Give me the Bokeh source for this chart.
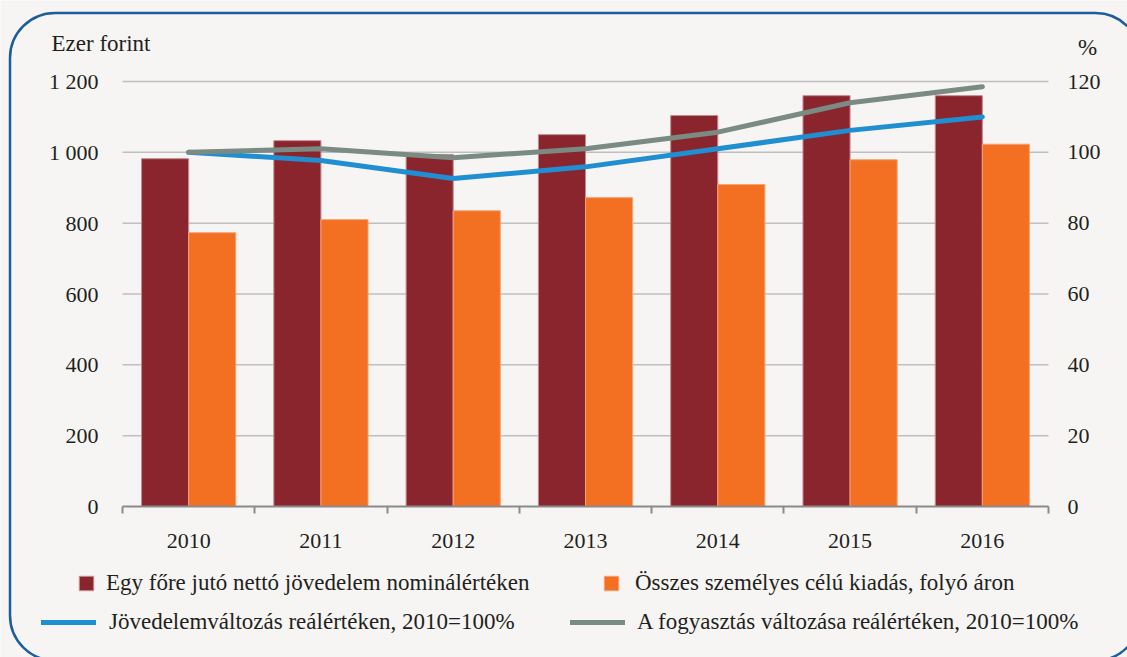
from bokeh.plotting import figure
from bokeh.models import (Range1d, LinearAxis, FixedTicker, BoxAnnotation, Label,
                          Legend, LegendItem, ColumnDataSource)
from bokeh.transform import dodge
from bokeh.embed import file_html
from bokeh.resources import INLINE

# ---- data ----
years = ["2010", "2011", "2012", "2013", "2014", "2015", "2016"]
income_nominal = [982, 1033, 994, 1050, 1104, 1160, 1160]      # ezer forint
spending_current = [773, 810, 835, 872, 909, 979, 1023]        # ezer forint
income_real_idx = [100, 97.7, 92.6, 95.9, 101.0, 106.2, 110.0]  # %
consumption_real_idx = [100, 101.0, 98.5, 101.0, 105.7, 114.0, 118.5]  # %
left_ticks = [0, 200, 400, 600, 800, 1000, 1200]
left_tick_labels = ["0", "200", "400", "600", "800", "1 000", "1 200"]
right_ticks = [0, 20, 40, 60, 80, 100, 120]
labels = ["Egy főre jutó nettó jövedelem nominálértéken",
          "Összes személyes célú kiadás, folyó áron",
          "Jövedelemváltozás reálértéken, 2010=100%",
          "A fogyasztás változása reálértéken, 2010=100%"]

# ---- style ----
BG = "#f6f5f3"
BORDER = "#1c5d9e"
MAROON = "#8b252d"
ORANGE = "#f37022"
BLUE = "#1f8fd2"
GRAY = "#7a8b83"
AXIS = "#8a8a8a"
TXT = "#231f20"
FONT = "Liberation Serif"
FS = "22px"
FS_TXT = "23px"

W, H = 1127, 657
# plotting area in canvas pixels
PX0, PX1, PY_TOP, PY_BOT = 122, 1048, 81, 506

n = len(years)
ymax_l, ymax_r = left_ticks[-1], right_ticks[-1]
sx = (PX1 - PX0) / n                 # px per category
sy = (PY_BOT - PY_TOP) / ymax_l      # px per left unit
x_range = Range1d(-0.5 - PX0 / sx, n - 0.5 + (W - PX1) / sx)
y_range = Range1d(-(H - PY_BOT) / sy, ymax_l + PY_TOP / sy)
k = ymax_r / ymax_l
pct_range = Range1d(y_range.start * k, y_range.end * k)

xs = list(range(n))
src = ColumnDataSource(dict(x=xs, inc=income_nominal, spd=spending_current,
                            ir=income_real_idx, cr=consumption_real_idx))

p = figure(width=W, height=H, output_backend="svg", toolbar_location=None,
           x_range=x_range, y_range=y_range,
           x_axis_type=None, y_axis_type=None,
           min_border_left=0, min_border_right=0, min_border_top=0, min_border_bottom=0,
           background_fill_color=BG, border_fill_color=BG, outline_line_color=None)
p.extra_y_ranges = {"pct": pct_range}

# rounded frame around the whole chart (screen px, y from bottom)
p.add_layout(BoxAnnotation(left=9.5, right=1140, top=H - 12.5, bottom=H - 660,
                           left_units="screen", right_units="screen",
                           top_units="screen", bottom_units="screen",
                           fill_color=None, fill_alpha=0, line_color=BORDER, line_alpha=1.0,
                           line_width=2.5, border_radius=45, level="underlay"))

# horizontal gridlines across the plotting area
p.segment(x0=-0.5, x1=n - 0.5, y0=left_ticks[1:], y1=left_ticks[1:],
          line_color="#bfbfbf", line_width=1.5, level="underlay")

ax_l = LinearAxis(ticker=FixedTicker(ticks=left_ticks), fixed_location=-0.5,
                  bounds=(0, ymax_l),
                  major_label_overrides={t: l for t, l in zip(left_ticks, left_tick_labels)},
                  axis_line_color=None, major_tick_line_color=None, minor_tick_line_color=None,
                  major_tick_out=0, major_tick_in=0, major_label_standoff=24,
                  major_label_text_font=FONT, major_label_text_font_size=FS,
                  major_label_text_color=TXT)
p.add_layout(ax_l, "left")

ax_r = LinearAxis(y_range_name="pct", ticker=FixedTicker(ticks=right_ticks),
                  fixed_location=n - 0.5, bounds=(0, ymax_r),
                  axis_line_color=None, major_tick_line_color=None, minor_tick_line_color=None,
                  major_tick_out=0, major_tick_in=0, major_label_standoff=19,
                  major_label_text_font=FONT, major_label_text_font_size=FS,
                  major_label_text_color=TXT)
p.add_layout(ax_r, "right")

bounds = [i - 0.5 for i in range(n + 1)]
ax_b = LinearAxis(ticker=FixedTicker(ticks=xs, minor_ticks=bounds),
                  fixed_location=0, bounds=(-0.5, n - 0.5),
                  major_label_overrides={i: y for i, y in zip(xs, years)},
                  axis_line_color=AXIS, axis_line_width=2,
                  major_tick_line_color=None, major_tick_out=0, major_tick_in=0,
                  minor_tick_line_color=AXIS, minor_tick_line_width=2,
                  minor_tick_out=7, minor_tick_in=0,
                  major_label_standoff=20,
                  major_label_text_font=FONT, major_label_text_font_size=FS,
                  major_label_text_color=TXT)
p.add_layout(ax_b, "below")

bw = 0.356
r1 = p.vbar(x=dodge("x", -bw / 2), top="inc", width=bw, source=src,
            fill_color=MAROON, line_color="#c98a8e", line_width=1)
r2 = p.vbar(x=dodge("x", bw / 2), top="spd", width=bw, source=src,
            fill_color=ORANGE, line_color="#f8a070", line_width=1)
r3 = p.line("x", "ir", source=src, y_range_name="pct", line_color=BLUE, line_width=5,
            line_join="round", line_cap="round")
r4 = p.line("x", "cr", source=src, y_range_name="pct", line_color=GRAY, line_width=5,
            line_join="round", line_cap="round")

p.add_layout(Label(x=51, y=H - 43, x_units="screen", y_units="screen", text="Ezer forint",
                   text_font=FONT, text_font_size=FS_TXT, text_color=TXT,
                   text_align="left", text_baseline="middle"))
p.add_layout(Label(x=1087, y=H - 47, x_units="screen", y_units="screen", text="%",
                   text_font=FONT, text_font_size=FS_TXT, text_color=TXT,
                   text_align="center", text_baseline="middle"))

def make_legend(label, rend, loc, gw, gh, standoff):
    return Legend(items=[LegendItem(label=label, renderers=[rend])], location=loc,
                  orientation="horizontal", glyph_width=gw, glyph_height=gh,
                  label_standoff=standoff, padding=0, margin=0, spacing=0,
                  border_line_color=None, background_fill_alpha=0,
                  label_text_font=FONT, label_text_font_size=FS_TXT, label_text_color=TXT,
                  label_height=18)

p.add_layout(make_legend(labels[0], r1, (77, 61), 18, 18, 11))
p.add_layout(make_legend(labels[1], r2, (602, 61), 18, 18, 15))
p.add_layout(make_legend(labels[2], r3, (41, 22), 55, 18, 13))
p.add_layout(make_legend(labels[3], r4, (570, 22), 55, 18, 12))

open("out.html", "w").write(file_html(p, INLINE))
